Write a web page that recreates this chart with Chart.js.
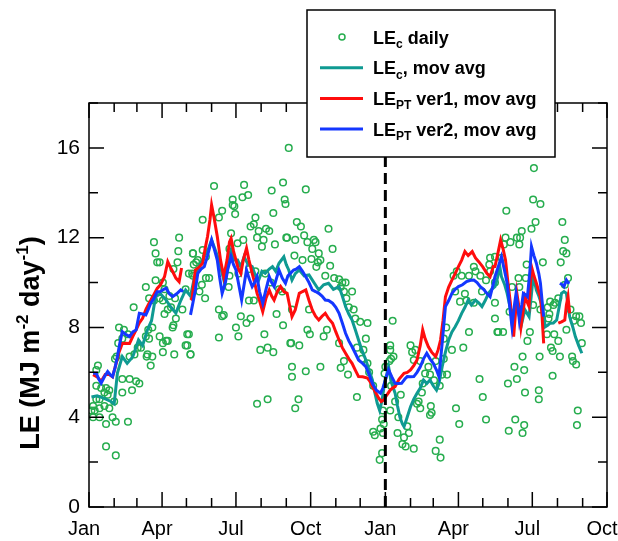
<!DOCTYPE html>
<html>
<head>
<meta charset="utf-8">
<script src="https://cdn.jsdelivr.net/npm/chart.js@4"></script>
<style>
  body { margin: 0; background: #fff; }
  canvas { display: block; }
</style>
</head>
<body>
<canvas id="chart" width="618" height="541"></canvas>
<script>
// x values are days counted from 1 Jan of the first year
const monthStarts = [0, 31, 59, 90, 120, 151, 181, 212, 243, 273, 304, 334, 365, 396, 424, 455, 485, 516, 546, 577, 608, 638];
const majorDays = [0, 90, 181, 273, 365, 455, 546, 638];
const majorLabels = ["Jan", "Apr", "Jul", "Oct", "Jan", "Apr", "Jul", "Oct"];
const yearBreak = 365;
const yTicks = [0, 4, 8, 12, 16];
const yMinorTicks = [2, 6, 10, 14, 18];

// LEc daily
const dailyDay = [
  80, 82, 84, 87, 70, 82, 93, 91, 87, 55, 74, 80, 91, 99, 106, 111, 110, 109, 104, 115, 119, 128, 128, 132,
  37, 43, 48, 36, 34, 41, 32, 11, 9, 9, 15, 19, 21, 25, 23, 13, 9, 5, 3, 7, 13, 19, 25, 31, 5, 13, 21, 29,
  33, 48, 21, 33, 41, 41, 50, 53, 58, 62, 50, 56, 60, 64, 70, 74, 71, 76, 78, 78, 73, 87, 91, 95, 97, 105,
  104, 103, 93, 97, 101, 107, 121, 119, 125, 91, 72,
  154, 191, 239, 225, 189, 196, 177, 177, 179, 241, 242, 227, 180, 164, 140, 160, 205, 203, 199, 218, 222,
  209, 175, 207, 215, 190, 183, 243, 213, 229, 173, 128, 140, 144, 129, 134, 123, 127, 139, 144, 148, 172,
  173, 184, 197, 205, 217, 224, 234, 238, 136, 143, 160, 166, 164, 187, 194, 197, 203, 199, 216, 231, 239,
  181, 184, 160, 123, 121, 125, 211, 220, 227, 249, 250, 207, 220, 254,
  246, 267, 256, 261, 295, 244, 254, 265, 269, 277, 279, 275, 300, 253, 263, 274, 283, 282, 285, 280, 297,
  291, 302, 308, 312, 310, 316, 314, 324, 317, 320, 326, 328, 334, 343, 341, 338, 308, 330, 336, 343, 314,
  293, 289, 250, 271, 269, 272, 248, 259, 250, 267, 285, 310, 319, 330, 258, 345, 350, 350, 352, 359, 362,
  361, 358, 372, 372, 374, 371,
  371, 375, 370, 365, 364, 362, 363, 361, 371, 377, 384, 381, 380, 386, 388, 392, 390, 400, 394, 396, 398,
  402, 400, 408, 410, 406, 408, 404, 421, 422, 420, 427, 433, 432, 411, 414, 420, 425, 418, 427, 437, 441,
  435, 432, 447, 437, 440, 451, 449, 453, 459, 457, 468, 463, 474, 476, 482, 489, 494, 500, 493, 494, 484,
  474, 468, 461, 452, 456, 481, 485, 489, 500, 503, 465,
  548, 547, 556, 514, 550, 545, 583, 533, 527, 531, 530, 513, 519, 511, 586, 584, 588, 581, 559, 539, 508,
  529, 538, 500, 521, 530, 590, 586, 500, 547, 568, 574, 572, 578, 565, 556, 593, 600, 604, 606, 597, 567,
  566, 518, 504, 510, 543, 564, 573, 578, 588, 540, 555, 534, 569, 571, 580, 595, 596, 600, 607, 524, 536,
  527, 516, 571, 537, 554, 554, 602, 601, 525, 517, 536, 534
];
const dailyLE = [
  11.8, 11.3, 10.9, 10.9, 9.8, 10.1, 9.7, 10.0, 9.3, 8.9, 9.3, 9.2, 9.2, 9.4, 9.3, 12.0, 11.4, 10.9, 10.6, 8.8, 9.7, 11.3, 10.3, 10.9,
  8.0, 7.9, 7.7, 7.3, 6.7, 7.5, 6.6, 6.3, 6.1, 5.4, 5.3, 5.1, 5.3, 5.2, 5.0, 4.8, 4.8, 4.5, 4.3, 4.3, 4.4, 4.5, 4.4, 4.7, 4.0, 4.0, 3.7, 4.0,
  3.8, 3.8, 2.7, 2.3, 5.1, 5.7, 5.7, 5.2, 5.6, 5.5, 6.7, 6.8, 7.1, 7.1, 7.6, 7.5, 6.7, 6.3, 6.7, 8.0, 7.9, 7.6, 6.9, 7.4, 7.4, 6.8,
  8.1, 8.0, 8.6, 8.8, 8.9, 8.4, 7.7, 7.2, 6.8, 7.3, 6.8,
  14.3, 14.35, 14.46, 14.1, 13.8, 13.9, 13.7, 13.45, 13.4, 13.7, 13.5, 13.1, 13.05, 13.2, 12.8, 12.9, 12.9, 12.6, 12.5, 12.4, 12.3,
  12.3, 12.2, 12.0, 11.9, 11.9, 11.75, 12.0, 11.6, 11.7, 11.5, 11.3, 11.45, 11.15, 10.8, 11.0, 10.4, 10.4, 9.9, 10.2, 10.2, 9.8,
  10.3, 10.4, 10.6, 10.5, 10.4, 10.0, 9.7, 9.6, 9.6, 9.3, 8.8, 8.55, 8.5, 8.5, 8.2, 9.2, 9.2, 8.4, 7.7, 8.6, 8.1,
  8.0, 7.6, 7.55, 7.7, 7.2, 6.8, 7.0, 7.1, 6.9, 7.3, 5.8, 4.6, 4.8, 4.4,
  16.0, 14.15, 12.7, 12.5, 12.4, 12.0, 11.9, 12.1, 11.8, 11.9, 11.8, 11.5, 11.5, 11.2, 11.0, 11.05, 11.3, 10.9, 11.0, 10.7, 10.75,
  10.3, 10.2, 10.15, 10.0, 9.8, 10.0, 9.6, 9.6, 9.3, 8.9, 8.8, 8.4, 8.25, 8.2, 7.5, 7.0, 7.3, 7.1, 6.6, 6.4, 6.5,
  7.9, 7.6, 8.8, 8.8, 7.9, 7.7, 7.3, 7.2, 6.25, 6.05, 6.25, 6.2, 5.9, 4.9, 4.8, 6.0, 5.4, 3.35, 3.2, 3.5, 3.3,
  3.9, 2.1, 5.4, 6.6, 8.3, 7.2,
  7.0, 6.7, 6.5, 6.25, 5.95, 4.3, 3.7, 2.4, 4.3, 4.7, 5.0, 4.0, 3.3, 2.8, 3.1, 3.6, 2.7, 2.6, 3.3, 7.2, 6.9,
  7.0, 6.55, 6.5, 5.1, 4.7, 4.4, 4.6, 4.5, 4.2, 4.1, 2.5, 2.2, 3.0, 5.5, 5.95, 5.9, 5.65, 6.25, 6.5, 6.6, 5.9,
  5.9, 5.4, 7.0, 7.5, 8.0, 9.6, 10.3, 10.5, 10.3, 9.15, 10.3, 9.5, 10.7, 10.5, 10.3, 10.1, 11.1, 11.15, 10.8, 10.5, 9.6,
  9.1, 7.8, 7.1, 4.4, 3.7, 5.7, 4.9, 3.9, 8.4, 7.8, 9.2,
  15.1, 13.7, 13.5, 13.2, 12.7, 12.4, 12.7, 12.3, 12.0, 12.0, 11.7, 12.0, 11.8, 11.7, 11.9, 11.4, 11.3, 10.9, 10.9, 10.8, 11.1,
  10.2, 10.2, 10.0, 9.8, 9.8, 10.2, 9.9, 9.1, 9.0, 9.15, 9.1, 9.0, 9.3, 8.9, 8.8, 8.8, 8.5, 8.5, 8.2, 8.3, 8.6,
  8.4, 8.7, 7.8, 7.8, 7.8, 7.7, 7.7, 7.4, 7.9, 7.4, 6.7, 6.7, 7.1, 6.95, 6.7, 6.7, 6.5, 6.35, 7.3, 6.25, 6.1,
  5.7, 5.5, 5.85, 5.1, 5.2, 4.8, 4.3, 3.65, 3.9, 3.4, 3.65, 3.3
];

// LEc, moving average
const avgCDay = [3, 10, 18, 27, 31, 35, 41, 47, 54, 61, 66, 72, 77, 82, 88, 95, 101, 107, 113, 119, 125, 131, 137, 142, 147, 151,
  156, 160, 166, 170, 175, 179, 183, 187, 191, 196, 201, 205, 209, 213, 217, 222, 226, 230, 234, 240, 243, 246, 250, 254, 259,
  265, 271, 277, 283, 289, 295, 301, 308, 312, 316, 320, 324, 328, 332, 336, 341, 345, 349, 352, 355, 358, 361, 364, 367, 369,
  372, 377, 380, 383, 386, 388, 391, 396, 400, 404, 408, 412, 416, 420, 424, 428, 431, 435, 439, 443, 447, 451, 455, 459, 463,
  467, 471, 476, 480, 484, 488, 492, 496, 500, 503, 506, 508, 512, 515, 518, 521, 524, 527, 530, 532, 535, 537, 540, 542, 545,
  547, 549, 551, 554, 557, 560, 562, 565, 568, 572, 576, 579, 582, 585, 588, 590, 592, 596, 599, 603, 607];
const avgCVal = [4.9, 4.95, 4.85, 4.7, 4.6, 5.97, 6.7, 6.4, 6.7, 7.44, 7.2, 7.9, 8.3, 9.37, 9.5, 9.22, 8.9, 8.64, 9.2, 9.67,
  9.4, 10.41, 10.8, 11.15, 11.5, 11.9, 11.4, 11.0, 10.11, 10.8, 11.45, 11.0, 11.0, 10.7, 11.15, 10.8, 10.71, 10.3, 10.11, 10.5,
  10.41, 10.6, 10.71, 10.5, 10.86, 11.15, 10.8, 10.56, 10.11, 10.4, 10.56, 10.3, 10.34, 10.0, 9.67, 9.9, 9.97, 9.7, 9.82, 9.4,
  8.93, 8.6, 8.33, 7.9, 7.44, 7.0, 6.55, 6.1, 5.66, 5.1, 4.62, 4.3, 4.77, 5.5, 5.96, 6.25, 5.6, 5.07, 4.5, 4.0, 3.7, 3.58,
  3.9, 4.47, 4.8, 5.07, 5.3, 5.66, 5.5, 5.66, 5.4, 5.21, 5.5, 6.25, 6.9, 7.44, 7.8, 8.03, 8.3, 8.63, 8.9, 9.22, 9.0, 9.22,
  9.1, 8.93, 9.2, 9.52, 9.7, 9.82, 10.2, 10.71, 10.26, 9.9, 9.52, 9.0, 8.48, 8.7, 8.93, 8.5, 8.03, 8.5, 8.78, 8.6, 8.48, 9.5,
  10.26, 10.0, 9.67, 9.4, 9.08, 8.5, 8.03, 8.1, 8.19, 8.2, 8.33, 8.9, 9.52, 9.6, 9.52, 9.0, 8.48, 8.0, 7.59, 7.2, 6.85];

// LEPT ver1, moving average (null = gap in the record)
const avgV1Day = [5, 10, 15, 20, 25, 29, 33, 37, 41, 45, 50, 54, 58, 62, 66, 70, 74, 79, 84, 88, 93, 97, 100, 103, 107, 111,
  114, 120, 125, 127, 131, 136, 140, 143, 146, 149, 151, 154, 158, 162, 166, 170, 173, 175, 178, 181, 184, 187, 190, 194, 197,
  201, 204, 207, 210, 214, 218, 222, 225, 228, 232, 236, 240, 244, 247, 250, 254, 259, 263, 267, 271, 275, 279, 283, 287, 291,
  295, 300, 304, 308, 312, 316, 320, 324, 328, 332, 337, 343, 346, 349, 353, 357, 360, 363, 367, 371, 374, 377, 382, 388, 392,
  396, 400, 404, 408, 411, 414, 418, 422, 427, 430, 433, 436, 439, 443, 447, 451, 455, 459, 463, 467, 472, 476, 480, 485, 490,
  494, 498, 500, 503, 507, 510, 513, 516, 519, 521, 523, 525, 527, 530, 532, 535, 537, 540, 542, 545, 548, 551, 554, 556, 558,
  560, 570, 578, 582, 586, 588, 590, 592];
const avgV1Val = [5.9, 5.8, 5.6, 5.9, 5.9, 5.8, 6.33, 6.9, 7.29, 7.3, 7.29, 7.6, 7.89, 8.2, 8.41, 8.8, 9.08, 9.4, 9.74, 9.9,
  10.26, 10.93, 10.7, 10.49, 10.2, 10.04, 10.65, null, 9.22, 9.3, 10.56, 10.7, 10.86, 11.5, 12.05, 12.8, 13.46, 12.9, 12.05,
  11.0, 10.26, 11.0, 11.8, 11.97, 11.4, 11.0, 10.6, 10.41, 11.0, 11.53, 11.0, 10.41, 10.0, 9.52, 9.2, 8.7, 9.3, 9.67, 9.4,
  9.22, 9.6, 9.82, 9.6, 9.52, 9.0, 8.48, 8.78, 9.52, 9.6, 9.67, 9.2, 8.78, 8.5, 8.33, 8.5, 8.63, 8.4, 8.19, 7.8, 7.44, 7.1,
  6.85, 6.6, 6.4, 6.1, 5.81, 5.8, 5.74, 5.6, 5.36, 5.1, 4.84, 4.7, 4.77, 5.0, 5.21, 5.3, 5.36, 5.7, 5.96, 6.0, 6.11, 6.3,
  6.55, 7.2, 7.89, 7.5, 7.14, 6.9, 6.7, 7.0, 7.44, 8.3, 9.37, 9.8, 10.11, 10.4, 10.71, 11.0, 11.38, 11.2, 11.38, 11.1, 10.93,
  10.7, 10.41, 10.26, 10.71, 10.71, 11.2, 11.9, 11.5, 11.0, 10.0, 9.08, 8.2, 7.59, 8.5, 9.52, 8.8, 8.03, 8.8, 9.37, 9.1,
  8.93, 10.71, 10.3, 9.97, 9.6, 9.37, 8.5, 7.29, null, 8.19, 8.25, 8.33, 9.0, 9.37, 8.63];

// LEPT ver2, moving average
const avgV2Day = [5, 9, 12, 15, 19, 23, 26, 29, 32, 35, 38, 41, 45, 50, 54, 58, 62, 66, 70, 73, 76, 80, 84, 88, 92, 95, 99,
  103, 108, 113, 116, 120, 125, 128, 131, 134, 138, 142, 146, 151, 155, 158, 161, 164, 168, 171, 175, 178, 181, 185, 188, 191,
  194, 197, 201, 204, 207, 210, 214, 218, 222, 225, 228, 231, 234, 238, 242, 245, 248, 252, 255, 259, 263, 267, 271, 275, 279,
  283, 287, 291, 295, 300, 304, 308, 312, 316, 320, 324, 328, 332, 337, 341, 345, 349, 354, 359, 362, 365, 369, 373, 377, 381,
  385, 389, 392, 396, 400, 404, 408, 412, 416, 420, 424, 428, 431, 435, 439, 443, 447, 451, 455, 460, 465, 470, 474, 478, 482,
  486, 490, 494, 497, 500, 504, 508, 512, 515, 518, 521, 524, 526, 528, 530, 533, 535, 538, 540, 543, 545, 548, 551, 554, 556,
  558, 560, 570, 580, 583, 585, 588, 590, 592];
const avgV2Val = [5.96, 5.96, 5.7, 5.52, 5.8, 6.03, 5.9, 5.81, 6.2, 6.7, 7.3, 7.81, 7.7, 7.59, 7.8, 7.89, 8.63, 8.6, 8.56,
  8.8, 9.08, 9.3, 9.59, 9.6, 9.7, 9.75, 9.5, 9.37, 9.5, 9.67, 9.6, null, 8.56, 9.1, 9.67, 10.41, 10.6, 10.71, 11.2, 11.9,
  11.4, 11.0, 10.2, 9.52, 10.0, 10.6, 11.15, 10.8, 10.56, 9.8, 9.22, 9.9, 10.56, 10.2, 9.82, 10.0, 10.26, 9.6, 9.08, 9.7,
  10.26, 10.0, 9.82, 10.2, 10.56, 10.2, 9.97, 10.3, 10.41, 10.56, 10.6, 10.71, 10.5, 10.26, 10.0, 9.67, 9.6, 9.52, 9.4, 9.22,
  9.2, 9.08, 8.9, 8.63, 8.2, 7.74, 7.4, 7.14, 6.85, 6.55, 6.4, 6.25, 5.9, 5.51, 5.2, 5.07, 5.3, 5.66, 6.11, 5.8, 5.51, 5.5,
  5.51, 5.7, 5.81, 5.8, 5.81, 6.0, 6.25, 6.6, 6.85, 6.6, 6.4, 6.1, 5.81, 7.3, 8.93, 9.2, 9.52, 9.7, 9.82, 9.9, 10.04, 10.1,
  10.11, 10.0, 9.82, 9.7, 9.52, 9.37, 9.8, 10.26, 10.7, 11.15, 10.5, 9.97, 9.0, 8.03, 9.0, 9.52, 9.0, 8.33, 9.0, 9.52, 9.45,
  9.37, 10.5, 11.6, 11.2, 10.86, 10.4, 9.97, 9.2, 8.48, null, 9.97, 9.9, 9.82, 10.11, 10.0, 9.97];

const legendParts = [
  ["LE", "c", " daily"],
  ["LE", "c", ", mov avg"],
  ["LE", "PT", " ver1, mov avg"],
  ["LE", "PT", " ver2, mov avg"]
];

const toPoints = (xs, ys) => xs.map((d, i) => ({ x: d, y: ys[i] }));
const FONT = '"Liberation Sans", Arial, sans-serif';

// frame, inward ticks and the dashed year line
const frame = {
  id: "frame",
  afterDatasetsDraw(chart) {
    const { ctx, chartArea: a, scales: { x, y } } = chart;
    ctx.save();
    ctx.strokeStyle = "#000";

    const xb = x.getPixelForValue(yearBreak);
    ctx.lineWidth = 3;
    ctx.setLineDash([11, 6]);
    ctx.beginPath();
    ctx.moveTo(xb, a.bottom);
    ctx.lineTo(xb, a.top);
    ctx.stroke();
    ctx.setLineDash([]);

    ctx.lineWidth = 1.5;
    ctx.beginPath();
    monthStarts.forEach(d => {
      const px = x.getPixelForValue(d);
      const len = majorDays.includes(d) ? 15 : 9;
      ctx.moveTo(px, a.bottom); ctx.lineTo(px, a.bottom - len);
      ctx.moveTo(px, a.top); ctx.lineTo(px, a.top + len);
    });
    yTicks.concat(yMinorTicks).forEach(v => {
      const py = y.getPixelForValue(v);
      const len = yTicks.includes(v) ? 15 : 9;
      ctx.moveTo(a.left, py); ctx.lineTo(a.left + len, py);
      ctx.moveTo(a.right, py); ctx.lineTo(a.right - len, py);
    });
    ctx.stroke();
    ctx.strokeRect(a.left, a.top, a.right - a.left, a.bottom - a.top);
    ctx.restore();
  }
};

// y title with superscripts
const yTitle = {
  id: "yTitle",
  afterDraw(chart) {
    const ctx = chart.ctx;
    const parts = [["LE (MJ m", 0], ["-2", 1], [" day", 0], ["-1", 1], [")", 0]];
    const big = "bold 27px " + FONT, small = "bold 17px " + FONT;
    ctx.save();
    let total = 0;
    parts.forEach(p => { ctx.font = p[1] ? small : big; total += ctx.measureText(p[0]).width; });
    ctx.translate(39, 343);
    ctx.rotate(-Math.PI / 2);
    ctx.fillStyle = "#000";
    ctx.textBaseline = "alphabetic";
    let cx = -total / 2;
    parts.forEach(p => {
      ctx.font = p[1] ? small : big;
      ctx.fillText(p[0], cx, p[1] ? -11 : 0);
      cx += ctx.measureText(p[0]).width;
    });
    ctx.restore();
  }
};

// boxed legend with subscripts
const legendBox = {
  id: "legendBox",
  afterDraw(chart) {
    const ctx = chart.ctx;
    const bx = 307, by = 10, bw = 248, bh = 147;
    ctx.save();
    ctx.fillStyle = "#fff";
    ctx.fillRect(bx, by, bw, bh);
    ctx.strokeStyle = "#000";
    ctx.lineWidth = 1.5;
    ctx.strokeRect(bx, by, bw, bh);
    chart.data.datasets.forEach((ds, i) => {
      const cy = 37 + i * 30.7;
      if (ds.showLine) {
        ctx.strokeStyle = ds.borderColor;
        ctx.lineWidth = 3;
        ctx.beginPath();
        ctx.moveTo(320, cy); ctx.lineTo(363, cy);
        ctx.stroke();
      } else {
        ctx.strokeStyle = ds.borderColor;
        ctx.lineWidth = 1.5;
        ctx.beginPath();
        ctx.arc(342, cy, 3, 0, Math.PI * 2);
        ctx.stroke();
      }
      const [main, sub, rest] = legendParts[i];
      ctx.fillStyle = "#000";
      let tx = 373;
      ctx.font = "bold 18px " + FONT;
      ctx.fillText(main, tx, cy + 6.5);
      tx += ctx.measureText(main).width;
      ctx.font = "bold 12px " + FONT;
      ctx.fillText(sub, tx, cy + 11);
      tx += ctx.measureText(sub).width;
      ctx.font = "bold 18px " + FONT;
      ctx.fillText(rest, tx, cy + 6.5);
    });
    ctx.restore();
  }
};

new Chart(document.getElementById("chart"), {
  type: "scatter",
  data: {
    datasets: [
      {
        label: "LEc daily",
        data: toPoints(dailyDay, dailyLE),
        showLine: false,
        pointRadius: 3.3,
        pointBorderWidth: 1.5,
        borderColor: "#26ad4e",
        backgroundColor: "rgba(0,0,0,0)",
        order: 4
      },
      {
        label: "LEc, mov avg",
        data: toPoints(avgCDay, avgCVal),
        showLine: true,
        borderColor: "#0f9a92",
        borderWidth: 3,
        pointRadius: 0,
        order: 3
      },
      {
        label: "LEPT ver1, mov avg",
        data: toPoints(avgV1Day, avgV1Val),
        showLine: true,
        borderColor: "#ff0d0d",
        borderWidth: 3,
        pointRadius: 0,
        order: 2
      },
      {
        label: "LEPT ver2, mov avg",
        data: toPoints(avgV2Day, avgV2Val),
        showLine: true,
        borderColor: "#1437ff",
        borderWidth: 3,
        pointRadius: 0,
        order: 1
      }
    ]
  },
  options: {
    responsive: false,
    animation: false,
    spanGaps: false,
    layout: { padding: { left: 0, right: 11, top: 103, bottom: 0 } },
    plugins: { legend: { display: false }, tooltip: { enabled: false } },
    scales: {
      x: {
        type: "linear",
        min: 0,
        max: 638,
        afterBuildTicks: s => { s.ticks = majorDays.map(v => ({ value: v })); },
        afterFit: s => { s.height = 34; s.paddingLeft = 0; s.paddingRight = 0; },
        grid: { display: false, drawTicks: false },
        border: { display: false },
        ticks: {
          autoSkip: false,
          maxRotation: 0,
          padding: 10,
          labelOffset: -5,
          color: "#000",
          font: { family: FONT, size: 20 },
          callback: v => majorLabels[majorDays.indexOf(v)]
        }
      },
      y: {
        min: 0,
        max: 18,
        afterBuildTicks: s => { s.ticks = yTicks.map(v => ({ value: v })); },
        afterFit: s => { s.width = 89; s.paddingTop = 0; s.paddingBottom = 0; },
        grid: { display: false, drawTicks: false },
        border: { display: false },
        ticks: {
          padding: 9,
          color: "#000",
          font: { family: FONT, size: 21 }
        }
      }
    }
  },
  plugins: [frame, yTitle, legendBox]
});
</script>
</body>
</html>
